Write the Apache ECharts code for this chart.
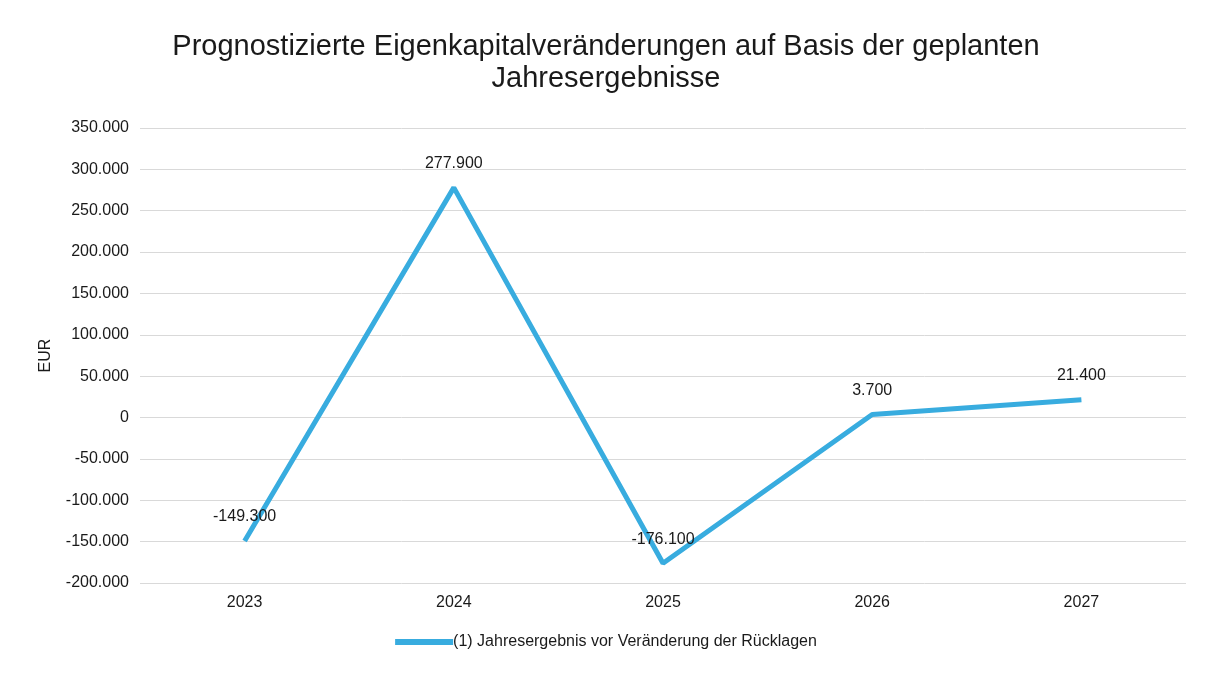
<!DOCTYPE html>
<html>
<head>
<meta charset="utf-8">
<script src="https://cdn.jsdelivr.net/npm/echarts@6/dist/echarts.min.js"></script>
<style>
html,body{margin:0;padding:0;background:#fff;}
#c{width:1212px;height:675px;}
</style>
</head>
<body>
<div id="c"></div>
<script>
const categories = ['2023', '2024', '2025', '2026', '2027'];
const values = [-149300, 277900, -176100, 3700, 21400];
const seriesName = '(1) Jahresergebnis vor Veränderung der Rücklagen';
const titleText = 'Prognostizierte Eigenkapitalveränderungen auf Basis der geplanten\nJahresergebnisse';
const yMin = -200000, yMax = 350000, yStep = 50000;

function fmt(v) {
  const s = Math.abs(v).toString().replace(/\B(?=(\d{3})+(?!\d))/g, '.');
  return (v < 0 ? '-' : '') + s;
}

const chart = echarts.init(document.getElementById('c'));
chart.setOption({
  backgroundColor: '#ffffff',
  animation: false,
  textStyle: { fontFamily: 'Liberation Sans, Arial, sans-serif' },
  title: {
    text: titleText,
    left: 'center',
    top: 26,
    textStyle: { fontSize: 29, fontWeight: 'normal', color: '#1a1a1a', lineHeight: 32, fontFamily: 'Liberation Sans, Arial, sans-serif' }
  },
  grid: { left: 140, right: 26, top: 128, bottom: 92 },
  legend: {
    bottom: 20,
    left: 'center',
    itemWidth: 58,
    itemHeight: 6,
    icon: 'rect',
    itemGap: 4,
    textStyle: { fontSize: 16, color: '#1a1a1a', padding: [0, 0, 0, -5] },
    data: [seriesName]
  },
  xAxis: {
    type: 'category',
    data: categories,
    boundaryGap: true,
    axisLine: { show: false },
    axisTick: { show: false },
    axisLabel: { fontSize: 16, color: '#1a1a1a', margin: 12 }
  },
  yAxis: {
    type: 'value',
    min: yMin, max: yMax, interval: yStep,
    name: 'EUR',
    nameLocation: 'middle',
    nameGap: 86,
    nameTextStyle: { fontSize: 16, color: '#1a1a1a' },
    axisLine: { show: false },
    axisTick: { show: false },
    axisLabel: { fontSize: 16, color: '#1a1a1a', margin: 11, formatter: fmt },
    splitLine: { lineStyle: { color: '#d9d9d9', width: 1 } }
  },
  series: [{
    name: seriesName,
    type: 'line',
    data: values,
    symbol: 'circle',
    symbolSize: 0.1,
    showSymbol: true,
    lineStyle: { color: '#38acdf', width: 5 },
    itemStyle: { color: '#38acdf' },
    label: {
      show: true,
      position: 'top',
      distance: 16,
      fontSize: 16,
      color: '#1a1a1a',
      formatter: p => fmt(p.value)
    },
    z: 1
  }]
});
</script>
</body>
</html>
